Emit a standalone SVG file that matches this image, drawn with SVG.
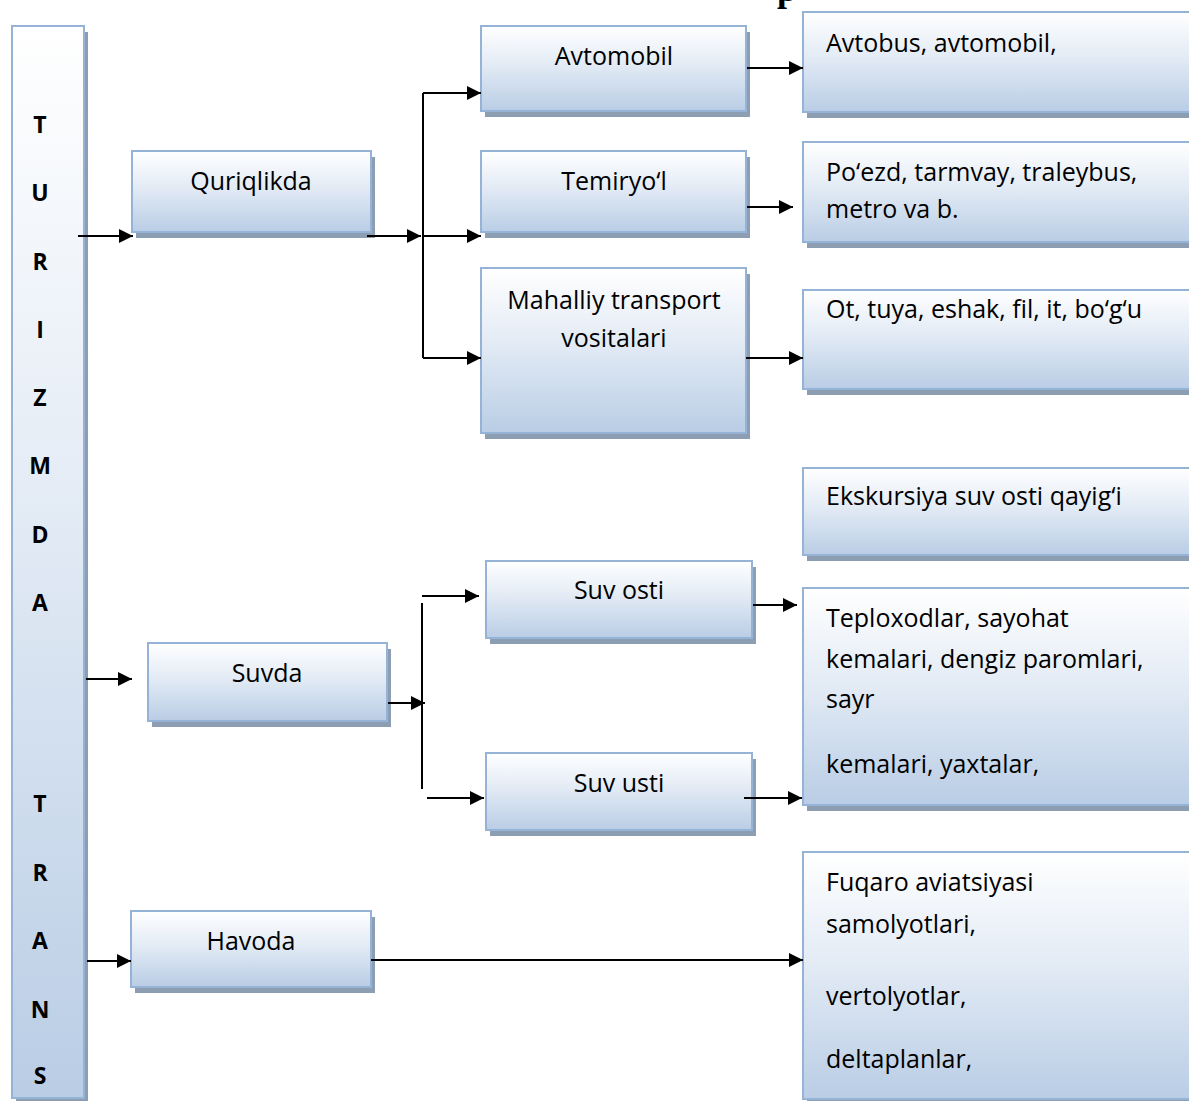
<svg xmlns="http://www.w3.org/2000/svg" width="1189" height="1101" viewBox="0 0 1189 1101">
<defs>
<linearGradient id="g" x1="0" y1="0" x2="0" y2="1">
<stop offset="0" stop-color="#ffffff"/>
<stop offset="0.45" stop-color="#e3ebf5"/>
<stop offset="1" stop-color="#b9cde5"/>
</linearGradient>
<marker id="ah" markerUnits="userSpaceOnUse" markerWidth="14" markerHeight="14" viewBox="0 0 10 10" refX="10" refY="5" orient="auto">
<path d="M0,0 L10,5 L0,10 z" fill="#000"/>
</marker>
<style>
.box{fill:url(#g);stroke:#95b3d7;stroke-width:2}
.sh{fill:#8d9db2}
.t{font-family:"Open Sans","Liberation Sans",sans-serif;font-size:25px;fill:#000}
.c{text-anchor:middle}
.b{font-weight:bold;font-size:23px;text-anchor:middle}
.ln{stroke:#000;stroke-width:2;fill:none}
.ar{marker-end:url(#ah)}
</style>
</defs>
<rect width="1189" height="1101" fill="#fff"/>
<text x="777" y="1" font-family="Liberation Serif,serif" font-size="36" font-weight="bold">p</text>

<g id="bar">
<rect class="sh" x="16" y="32" width="72" height="1072"/>
<rect class="box" x="12" y="26" width="72" height="1072"/>
<text class="t b" x="40" y="133">T</text>
<text class="t b" x="40" y="201">U</text>
<text class="t b" x="40" y="270">R</text>
<text class="t b" x="40" y="338">I</text>
<text class="t b" x="40" y="406">Z</text>
<text class="t b" x="40" y="474">M</text>
<text class="t b" x="40" y="543">D</text>
<text class="t b" x="40" y="611">A</text>
<text class="t b" x="40" y="812">T</text>
<text class="t b" x="40" y="881">R</text>
<text class="t b" x="40" y="949">A</text>
<text class="t b" x="40" y="1018">N</text>
<text class="t b" x="40" y="1084">S</text>
</g>

<g id="quriqlikda">
<rect class="sh" x="136" y="157" width="239" height="81"/>
<rect class="box" x="132" y="151" width="239" height="81"/>
<text class="t c" x="251" y="190">Quriqlikda</text>
</g>
<g id="avtomobil">
<rect class="sh" x="485" y="32" width="265" height="85"/>
<rect class="box" x="481" y="26" width="265" height="85"/>
<text class="t c" x="614" y="65">Avtomobil</text>
</g>
<g id="temiryol">
<rect class="sh" x="485" y="157" width="265" height="81"/>
<rect class="box" x="481" y="151" width="265" height="81"/>
<text class="t c" x="614" y="190">Temiryo‘l</text>
</g>
<g id="mahalliy">
<rect class="sh" x="485" y="274" width="265" height="165"/>
<rect class="box" x="481" y="268" width="265" height="165"/>
<text class="t c" x="614" y="309">Mahalliy transport</text>
<text class="t c" x="614" y="347">vositalari</text>
</g>
<g id="avtobus">
<rect class="sh" x="807" y="18" width="420" height="100"/>
<rect class="box" x="803" y="12" width="420" height="100"/>
<text class="t" x="826" y="52">Avtobus, avtomobil,</text>
</g>
<g id="poezd">
<rect class="sh" x="807" y="148" width="420" height="100"/>
<rect class="box" x="803" y="142" width="420" height="100"/>
<text class="t" x="826" y="181">Po‘ezd, tarmvay, traleybus,</text>
<text class="t" x="826" y="218">metro va b.</text>
</g>
<g id="ot">
<rect class="sh" x="807" y="296" width="420" height="99"/>
<rect class="box" x="803" y="290" width="420" height="99"/>
<text class="t" x="826" y="318">Ot, tuya, eshak, fil, it, bo‘g‘u</text>
</g>
<g id="ekskursiya">
<rect class="sh" x="807" y="474" width="420" height="87"/>
<rect class="box" x="803" y="468" width="420" height="87"/>
<text class="t" x="826" y="505">Ekskursiya suv osti qayig‘i</text>
</g>
<g id="suvda">
<rect class="sh" x="152" y="649" width="239" height="78"/>
<rect class="box" x="148" y="643" width="239" height="78"/>
<text class="t c" x="267" y="682">Suvda</text>
</g>
<g id="suvosti">
<rect class="sh" x="490" y="567" width="266" height="77"/>
<rect class="box" x="486" y="561" width="266" height="77"/>
<text class="t c" x="619" y="599">Suv osti</text>
</g>
<g id="suvusti">
<rect class="sh" x="490" y="759" width="266" height="77"/>
<rect class="box" x="486" y="753" width="266" height="77"/>
<text class="t c" x="619" y="792">Suv usti</text>
</g>
<g id="teploxodlar">
<rect class="sh" x="807" y="594" width="420" height="217"/>
<rect class="box" x="803" y="588" width="420" height="217"/>
<text class="t" x="826" y="627">Teploxodlar, sayohat</text>
<text class="t" x="826" y="668">kemalari, dengiz paromlari,</text>
<text class="t" x="826" y="708">sayr</text>
<text class="t" x="826" y="773">kemalari, yaxtalar,</text>
</g>
<g id="havoda">
<rect class="sh" x="135" y="917" width="240" height="76"/>
<rect class="box" x="131" y="911" width="240" height="76"/>
<text class="t c" x="251" y="950">Havoda</text>
</g>
<g id="fuqaro">
<rect class="sh" x="807" y="858" width="420" height="247"/>
<rect class="box" x="803" y="852" width="420" height="247"/>
<text class="t" x="826" y="891">Fuqaro aviatsiyasi</text>
<text class="t" x="826" y="933">samolyotlari,</text>
<text class="t" x="826" y="1005">vertolyotlar,</text>
<text class="t" x="826" y="1068">deltaplanlar,</text>
</g>

<g id="connectors">
<path class="ln ar" d="M78 236 H133"/>
<path class="ln ar" d="M367 236 H421"/>
<path class="ln" d="M423 93 V358"/>
<path class="ln ar" d="M423 93 H481"/>
<path class="ln ar" d="M423 236 H481"/>
<path class="ln ar" d="M423 358 H481"/>
<path class="ln ar" d="M747 68 H803"/>
<path class="ln ar" d="M747 207 H793"/>
<path class="ln ar" d="M746 358 H803"/>
<path class="ln ar" d="M86 679 H132"/>
<path class="ln ar" d="M388 703 H425"/>
<path class="ln" d="M422 603 V789"/>
<path class="ln ar" d="M422 596 H479"/>
<path class="ln ar" d="M427 798 H484"/>
<path class="ln ar" d="M753 605 H797"/>
<path class="ln ar" d="M744 798 H802"/>
<path class="ln ar" d="M87 961 H131"/>
<path class="ln ar" d="M371 960 H803"/>
</g>
</svg>
